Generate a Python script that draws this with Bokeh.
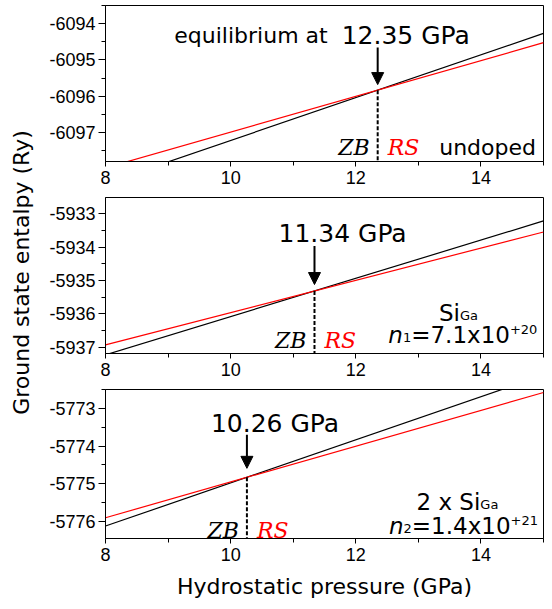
import numpy as np
from bokeh.plotting import figure
from bokeh.models import Range1d, FixedTicker, Label, Arrow, NormalHead
from bokeh.layouts import row, column
from bokeh.embed import file_html
from bokeh.resources import INLINE

# ---------------- data ----------------
pressure = [8.0, 15.0]
enthalpy_zb_undoped = [-6098.40, -6094.27]
enthalpy_rs_undoped = [-6097.975, -6094.525]
enthalpy_zb_n1 = [-5937.22, -5933.22]
enthalpy_rs_n1 = [-5936.92, -5933.55]
enthalpy_zb_n2 = [-5776.12, -5772.12]
enthalpy_rs_n2 = [-5775.90, -5772.58]
transition_pressure = [12.35, 11.34, 10.26]
transition_labels = ["12.35 GPa", "11.34 GPa", "10.26 GPa"]
x_ticks = [8, 10, 12, 14]
x_minor_ticks = [9, 11, 13, 15]
y_ticks_undoped = [-6097, -6096, -6095, -6094]
y_ticks_n1 = [-5937, -5936, -5935, -5934, -5933]
y_ticks_n2 = [-5776, -5775, -5774, -5773]
y_range_undoped = (-6097.8, -6093.5)
y_range_n1 = (-5937.18, -5932.52)
y_range_n2 = (-5776.45, -5772.5)

SANS = "DejaVu Sans"
SERIF = "DejaVu Serif"
TICKF = "Liberation Sans"

W = {' ': 0.318, '+': 0.838, '=': 0.838, '.': 0.318, 'x': 0.592, 'S': 0.635,
     'i': 0.278, 'G': 0.775, 'a': 0.613, 'n': 0.634}
for d in "0123456789":
    W[d] = 0.636


def text_width(s, size):
    return sum(W.get(c, 0.6) for c in s) * size


def add_label(p, x, y, text, size, dx=0, dy=0, color="black", font=SANS,
              style="normal", align="left"):
    p.add_layout(Label(x=x, y=y, x_offset=dx, y_offset=dy, text=text,
                       text_font=font, text_font_size=f"{size}px",
                       text_font_style=style, text_color=color,
                       text_align=align, text_baseline="alphabetic"))


def add_rich(p, x, y, pieces):
    dx = 0
    for text, size, style, dy in pieces:
        add_label(p, x, y, text, size, dx=dx, dy=dy, style=style)
        dx += text_width(text, size)


def make_panel(height, btop, bbottom, yr, yticks, zb, rs, tp, tlabel,
               gpa_y, arrow_y0, arrow_y1, phase_y):
    p = figure(width=504, height=height, x_range=Range1d(8, 15),
               y_range=Range1d(*yr), output_backend="svg",
               toolbar_location=None, min_border_left=65, min_border_right=1,
               min_border_top=btop, min_border_bottom=bbottom)
    p.xgrid.visible = False
    p.ygrid.visible = False
    p.outline_line_color = "black"
    p.outline_line_width = 1
    p.outline_line_alpha = 1
    p.background_fill_color = "white"
    p.border_fill_color = "white"
    p.xaxis.ticker = FixedTicker(ticks=x_ticks, minor_ticks=x_minor_ticks)
    p.yaxis.ticker = FixedTicker(ticks=yticks,
                                 minor_ticks=[t + 0.5 for t in yticks] + [yticks[0] - 0.5])
    p.yaxis.major_label_overrides = {t: str(t) for t in yticks}
    for ax in (p.xaxis[0], p.yaxis[0]):
        ax.axis_line_color = "black"
        ax.major_tick_line_color = "black"
        ax.minor_tick_line_color = "black"
        ax.major_tick_in = 0
        ax.minor_tick_in = 0
        ax.major_label_text_font = TICKF
        ax.major_label_text_font_size = "18px"
        ax.major_label_text_color = "black"
    p.xaxis.major_tick_out = 5
    p.xaxis.minor_tick_out = 4
    p.xaxis.major_label_standoff = 4
    p.yaxis.major_tick_out = 7
    p.yaxis.minor_tick_out = 4
    p.yaxis.major_label_standoff = 3

    p.line(pressure, zb, line_color="black", line_width=1.2)
    p.line(pressure, rs, line_color="red", line_width=1.2)

    cy = float(np.interp(tp, pressure, zb))
    p.line([tp, tp], [cy, yr[0]], line_color="black", line_width=2,
           line_dash="4 2")
    p.add_layout(Arrow(end=NormalHead(size=12, fill_color="black",
                                      line_color="black"),
                       x_start=tp, y_start=arrow_y0, x_end=tp, y_end=arrow_y1,
                       line_width=2, line_color="black"))
    add_label(p, tp, gpa_y, tlabel, 25, dx=-36, dy=3)
    add_label(p, tp, phase_y, "ZB", 22, dx=-8, font=SERIF, style="italic",
              align="right")
    add_label(p, tp, phase_y, "RS", 22, dx=10, font=SERIF, style="italic",
              color="red")
    return p


p1 = make_panel(195, 5, 34, y_range_undoped, y_ticks_undoped,
                enthalpy_zb_undoped, enthalpy_rs_undoped,
                transition_pressure[0], transition_labels[0],
                -6094.41, -6094.66, -6095.68, -6097.41)
add_label(p1, transition_pressure[0], -6094.41, "equilibrium at", 22,
          dx=-50, dy=3, align="right")
add_label(p1, 14.88, -6097.41, "undoped", 22, align="right")

p2 = make_panel(192, 2, 34, y_range_n1, y_ticks_n1,
                enthalpy_zb_n1, enthalpy_rs_n1,
                transition_pressure[1], transition_labels[1],
                -5933.69, -5933.97, -5935.12, -5936.79)
add_rich(p2, 13.33, -5935.96, [("Si", 23, "normal", 0), ("Ga", 13, "normal", -3)])
add_rich(p2, 12.52, -5936.64, [("n", 23, "italic", 0), ("1", 13, "normal", -2),
                               ("=7.1x10", 23, "normal", 0),
                               ("+20", 13, "normal", 6)])

p3 = make_panel(214, 2, 59, y_range_n2, y_ticks_n2,
                enthalpy_zb_n2, enthalpy_rs_n2,
                transition_pressure[2], transition_labels[2],
                -5773.48, -5773.70, -5774.59, -5776.23)
add_rich(p3, 12.97, -5775.47, [("2 x Si", 23, "normal", 0), ("Ga", 13, "normal", -3)])
add_rich(p3, 12.53, -5776.13, [("n", 23, "italic", 0), ("2", 13, "normal", -2),
                               ("=1.4x10", 23, "normal", 0),
                               ("+21", 13, "normal", 6)])
p3.xaxis.axis_label = "Hydrostatic pressure (GPa)"
p3.xaxis.axis_label_text_font = SANS
p3.xaxis.axis_label_text_font_size = "22px"
p3.xaxis.axis_label_text_font_style = "normal"
p3.xaxis.axis_label_text_color = "black"
p3.xaxis.axis_label_standoff = 10

lab = figure(width=40, height=601, x_range=Range1d(0, 40), y_range=Range1d(0, 601),
             output_backend="svg", toolbar_location=None, min_border=0,
             x_axis_type=None, y_axis_type=None)
lab.outline_line_color = None
lab.background_fill_color = "white"
lab.border_fill_color = "white"
lab.add_layout(Label(x=21, y=329, text="Ground state entalpy (Ry)", angle=np.pi / 2,
                     text_align="center", text_baseline="middle",
                     text_font=SANS, text_font_size="22px", text_color="black"))

layout = row(lab, column(p1, p2, p3))
open("out.html", "w").write(file_html(layout, INLINE))
